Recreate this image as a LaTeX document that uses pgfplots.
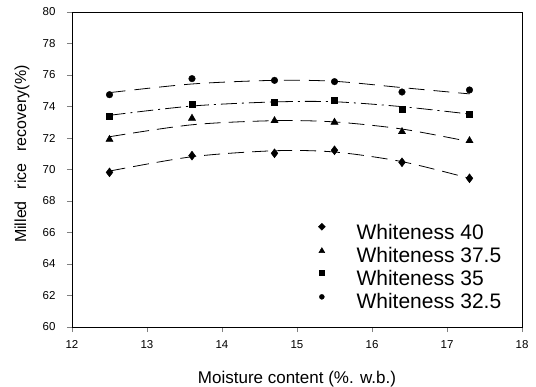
\documentclass[border=0pt]{standalone}
\usepackage{fontspec}
\setmainfont{Liberation Sans}
\usepackage{pgfplots}
\pgfplotsset{compat=1.18}
\pgfplotsset{
  legdia/.style={legend image code/.code={\fill[black] (0pt,5pt) +(0,3.5pt) -- +(3.5pt,0) -- +(0,-3.5pt) -- +(-3.5pt,0) -- cycle;}},
  legtri/.style={legend image code/.code={\fill[black] (0pt,4pt) +(0,3.2pt) -- +(2.9pt,-1.8pt) -- +(-2.9pt,-1.8pt) -- cycle;}},
  legsq/.style={legend image code/.code={\fill[black] (-2.4pt,2.6pt) rectangle (2.4pt,7.4pt);}},
  legcirc/.style={legend image code/.code={\fill[black] (0pt,4pt) circle (2.5pt);}},
}
\begin{document}
\begin{tikzpicture}
\begin{axis}[
  scale only axis, width=450pt, height=315pt,
  xmin=12, xmax=18, ymin=60, ymax=80,
  xtick={12,...,18}, ytick={60,62,...,80},
  tick pos=left, tick align=outside,
  major tick length=5pt,
  /pgf/number format/assume math mode=true,
  ticklabel style={font=\fontsize{11.5}{13}\selectfont},
  xticklabel style={yshift=-5pt},
  yticklabel style={xshift=-8pt},
  xlabel={Moisture content (\%. w.b.)},
  ylabel={Milled\hspace{12pt}rice\hspace{12pt}recovery(\%)},
  label style={font=\fontsize{17}{19}\selectfont},
  xlabel style={at={(rel axis cs:0.5,0)}, anchor=base, yshift=-56pt},
  ylabel style={at={(axis description cs:-0.111,0.549)}, anchor=center, font=\fontsize{16}{18}\selectfont},
  axis line style={black, line width=0.8pt},
  clip=false,
  legend style={draw=none, fill=none, at={(0.547,0.330)}, anchor=north west,
    inner sep=0pt, outer sep=0pt,
    font=\fontsize{21}{23}\selectfont, row sep=8pt,
    nodes={inner sep=0pt, text height=15pt, text depth=0pt},
    legend cell align=left, /tikz/every odd column/.append style={column sep=31pt}},
]
% fitted curves
\addplot[black, line width=0.8pt, smooth, dash pattern=on 16pt off 8pt, forget plot] coordinates {
(12.5,69.90) (13.6,70.81) (14.7,71.19) (15.5,71.11) (16.4,70.50) (17.3,69.44)};
\addplot[black, line width=0.8pt, smooth, dash pattern=on 16pt off 8pt, forget plot] coordinates {
(12.5,72.08) (13.6,72.84) (14.7,73.10) (15.5,73.02) (16.4,72.57) (17.3,71.77)};
\addplot[black, line width=0.8pt, smooth, dash pattern=on 16pt off 5pt on 2pt off 5pt, forget plot] coordinates {
(12.5,73.44) (13.6,74.03) (14.7,74.29) (15.5,74.30) (16.4,73.99) (17.3,73.52)};
\addplot[black, line width=0.8pt, smooth, dash pattern=on 16pt off 9pt, forget plot] coordinates {
(12.5,74.88) (13.6,75.43) (14.7,75.66) (15.5,75.60) (16.4,75.20) (17.3,74.80)};
% data points
\addplot[only marks, mark=diamond*, mark size=4.5pt, black, legdia] coordinates {
(12.5,69.82) (13.6,70.88) (14.7,71.03) (15.5,71.22) (16.4,70.46) (17.3,69.44)};
\addlegendentry{Whiteness 40}
\addplot[only marks, mark=triangle*, mark size=4.2pt, black, legtri] coordinates {
(12.5,71.91) (13.6,73.25) (14.7,73.10) (15.5,73.00) (16.4,72.40) (17.3,71.83)};
\addlegendentry{Whiteness 37.5}
\addplot[only marks, mark=square*, mark size=3pt, black, legsq] coordinates {
(12.5,73.40) (13.6,74.16) (14.7,74.27) (15.5,74.39) (16.4,73.84) (17.3,73.52)};
\addlegendentry{Whiteness 35}
\addplot[only marks, mark=*, mark size=3.3pt, black, legcirc] coordinates {
(12.5,74.75) (13.6,75.77) (14.7,75.66) (15.5,75.58) (16.4,74.92) (17.3,75.05)};
\addlegendentry{Whiteness 32.5}
\end{axis}
\pgfresetboundingbox
\path (-72pt,-59pt) rectangle (464pt,327pt);
\end{tikzpicture}
\end{document}
